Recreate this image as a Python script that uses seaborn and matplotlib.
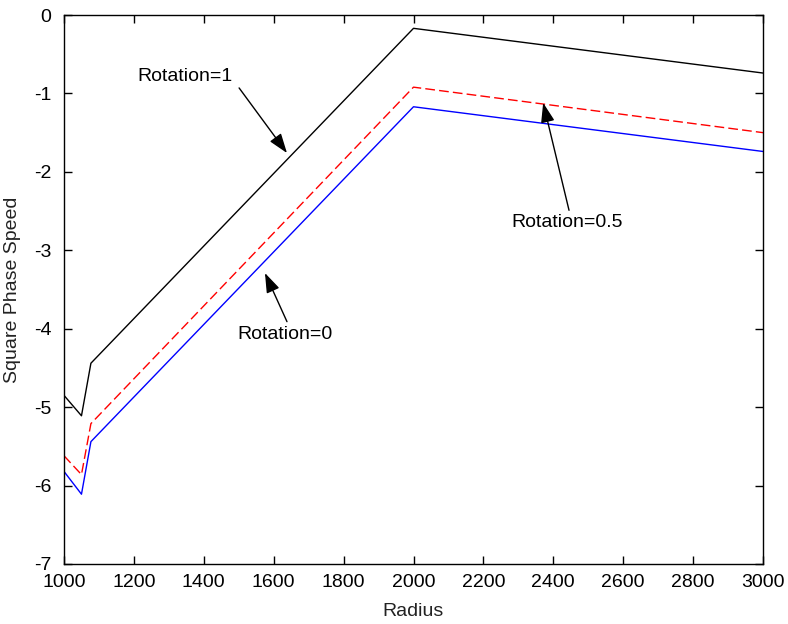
import matplotlib
matplotlib.use("Agg")
import matplotlib.pyplot as plt
import seaborn as sns
import pandas as pd

radius = [1000, 1050, 1077, 2000, 3000]
rot_1 = [-4.85, -5.11, -4.44, -0.17, -0.74]
rot_05 = [-5.62, -5.86, -5.21, -0.92, -1.50]
rot_0 = [-5.82, -6.11, -5.44, -1.17, -1.74]

x_ticks = [1000, 1200, 1400, 1600, 1800, 2000, 2200, 2400, 2600, 2800, 3000]
y_ticks = [0, -1, -2, -3, -4, -5, -6, -7]

labels = ["Rotation=1", "Rotation=0", "Rotation=0.5"]
text_xy = [(1346, -0.79), (1632, -4.07), (2440, -2.64)]
tail_xy = [(1501, -0.93), (1638, -3.91), (2445, -2.49)]
head_xy = [(1638, -1.76), (1575, -3.29), (2371, -1.12)]

sns.set_theme(style="white")
plt.rcParams['font.family'] = ['Liberation Sans', 'DejaVu Sans']
fs = 14

fig = plt.figure(figsize=(7.88, 6.24), dpi=100)
ax = fig.add_axes([64/788, 60/624, (763-64)/788, (564-15)/624])

sns.lineplot(x=radius, y=rot_1, ax=ax, color="black", linewidth=1.0)
sns.lineplot(x=radius, y=rot_05, ax=ax, color="red", linewidth=1.0, linestyle=(0, (7, 3)))
sns.lineplot(x=radius, y=rot_0, ax=ax, color="blue", linewidth=1.0)

ax.set_xlim(1000, 3000)
ax.set_ylim(-7, 0)
ax.set_xticks(x_ticks)
ax.set_xticklabels([str(t) for t in x_ticks], fontsize=fs)
ax.set_yticks(y_ticks)
ax.set_yticklabels([str(t) for t in y_ticks], fontsize=fs)
ax.tick_params(direction="in", length=6, width=1, top=True, right=True,
               bottom=True, left=True, colors="black")
ax.tick_params(axis="x", pad=7)
ax.tick_params(axis="y", pad=9)
for s in ax.spines.values():
    s.set_color("black")
    s.set_linewidth(1.0)

ax.set_xlabel("Radius", fontsize=fs, labelpad=9, color="#222222")
ax.set_ylabel("Square Phase Speed", fontsize=fs, labelpad=9, color="#222222")

for lab, txy, tl, hd in zip(labels, text_xy, tail_xy, head_xy):
    ax.text(txy[0], txy[1], lab, fontsize=fs, ha="center", va="center", color="black")
    ax.annotate("", xy=hd, xytext=tl,
                arrowprops=dict(arrowstyle="-|>,head_length=1.0,head_width=0.35",
                                color="black", lw=1.0, shrinkA=0, shrinkB=0))

fig.savefig("out.png", dpi=100, facecolor="white")
